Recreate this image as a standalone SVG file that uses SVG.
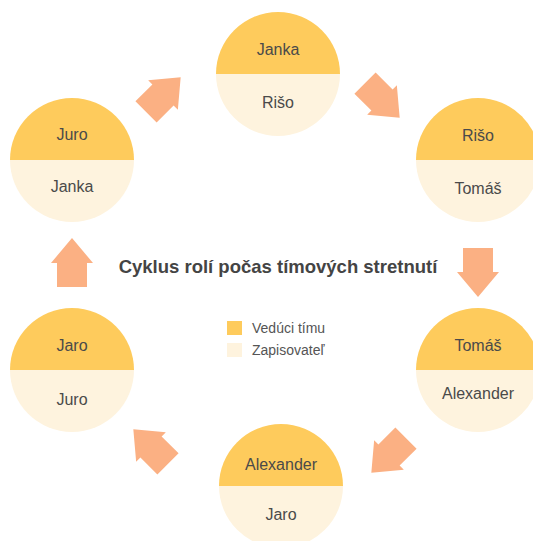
<svg xmlns="http://www.w3.org/2000/svg" width="533" height="541" viewBox="0 0 533 541">
<defs>
<style>
.lead{fill:#FECB5C}
.scribe{fill:#FEF3DE}
.arrow{fill:#FBB083}
.name{font-family:"Liberation Sans",Arial,sans-serif;font-size:16px;fill:#4a4a4a;text-anchor:middle}
.title{font-family:"Liberation Sans",Arial,sans-serif;font-size:18.5px;font-weight:bold;fill:#444;text-anchor:middle}
.leg{font-family:"Liberation Sans",Arial,sans-serif;font-size:14px;fill:#555}
</style>
<path id="top" d="M-62,0 A62,62 0 0 1 62,0 Z"/>
<path id="bot" d="M-62,0 A62,62 0 0 0 62,0 Z"/>
<polygon id="arr" points="0,-25 21,0 15,0 15,24 -15,24 -15,0 -21,0"/>
</defs>
<rect width="533" height="541" fill="#fff"/>
<g id="connectors">
<use href="#arr" class="arrow" transform="translate(163,95) rotate(45)"/>
<use href="#arr" class="arrow" transform="translate(382,100) rotate(135)"/>
<use href="#arr" class="arrow" transform="translate(478,272) rotate(180)"/>
<use href="#arr" class="arrow" transform="translate(389,455) rotate(225)"/>
<use href="#arr" class="arrow" transform="translate(151,447) rotate(-45)"/>
<use href="#arr" class="arrow" transform="translate(72,263)"/>
</g>
<g id="node-top" transform="translate(278,74)">
<use href="#top" class="lead"/><use href="#bot" class="scribe"/>
<text class="name" y="-19">Janka</text><text class="name" y="34">Rišo</text>
</g>
<g id="node-topright" transform="translate(478,160)">
<use href="#top" class="lead"/><use href="#bot" class="scribe"/>
<text class="name" y="-19">Rišo</text><text class="name" y="34">Tomáš</text>
</g>
<g id="node-bottomright" transform="translate(478,370)">
<use href="#top" class="lead"/><use href="#bot" class="scribe"/>
<text class="name" y="-19">Tomáš</text><text class="name" y="29">Alexander</text>
</g>
<g id="node-bottom" transform="translate(281,486)">
<use href="#top" class="lead"/><use href="#bot" class="scribe"/>
<text class="name" y="-16">Alexander</text><text class="name" y="34">Jaro</text>
</g>
<g id="node-bottomleft" transform="translate(72,370)">
<use href="#top" class="lead"/><use href="#bot" class="scribe"/>
<text class="name" y="-19">Jaro</text><text class="name" y="35">Juro</text>
</g>
<g id="node-topleft" transform="translate(72,160)">
<use href="#top" class="lead"/><use href="#bot" class="scribe"/>
<text class="name" y="-20">Juro</text><text class="name" y="32">Janka</text>
</g>
<g id="title">
<text class="title" x="278" y="273">Cyklus rolí počas tímových stretnutí</text>
</g>
<g id="legend">
<rect class="lead" x="227" y="321" width="15" height="14"/>
<text class="leg" x="252" y="333">Vedúci tímu</text>
<rect class="scribe" x="227" y="343" width="15" height="14"/>
<text class="leg" x="252" y="355">Zapisovateľ</text>
</g>
</svg>
